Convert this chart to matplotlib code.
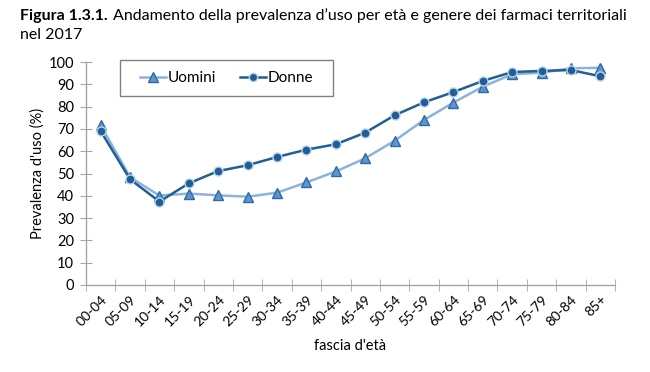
import matplotlib
matplotlib.use("Agg")
import matplotlib.pyplot as plt
from matplotlib.lines import Line2D
from matplotlib.patches import Rectangle

categories = ["00-04", "05-09", "10-14", "15-19", "20-24", "25-29", "30-34", "35-39",
              "40-44", "45-49", "50-54", "55-59", "60-64", "65-69", "70-74", "75-79",
              "80-84", "85+"]
uomini = [71.7, 48.3, 40.1, 41.0, 40.2, 39.6, 41.4, 46.0, 50.9, 56.8, 64.7, 74.0,
          81.8, 88.9, 94.5, 95.2, 97.2, 97.4]
donne = [69.0, 47.4, 37.4, 45.6, 51.1, 53.7, 57.4, 60.7, 63.1, 68.3, 76.1, 81.9,
         86.5, 91.5, 95.5, 96.0, 96.4, 93.6]
yticks = list(range(0, 101, 10))

plt.rcParams['font.family'] = ['Lato', 'DejaVu Sans']

fig = plt.figure(figsize=(6.5, 3.72), dpi=100)
ax = fig.add_axes([86/650, 1-285/372, (615-86)/650, (285-62)/372])

light = "#8DB3DC"
dark = "#1F5E97"
x = list(range(len(categories)))
ax.plot(x, uomini, color=light, lw=1.8, marker="^", ms=7, mfc="#5E95CC",
        mec="#2F6AA6", mew=1.0, zorder=3)
ax.plot(x, donne, color=dark, lw=1.8, marker="o", ms=6.5, mfc=dark,
        mec="#BCD3EA", mew=1.0, zorder=4)

ax.set_xlim(-0.5, len(categories) - 0.5)
ax.set_ylim(0, 100)
ax.set_yticks(yticks)
ax.set_yticklabels([str(v) for v in yticks], fontsize=10.5)
ax.set_xticks(x)
ax.set_xticklabels(categories, rotation=45, ha="right", rotation_mode="anchor", fontsize=10)
ax.tick_params(axis="x", length=0, pad=6)
ax.set_xticks([i - 0.5 for i in range(len(categories) + 1)], minor=True)
ax.tick_params(axis="x", which="minor", length=8, direction="inout", color="#A6A6A6")
ax.tick_params(axis="y", length=9, direction="inout", color="#A6A6A6", pad=4)

for s in ["top", "right"]:
    ax.spines[s].set_visible(False)
for s in ["left", "bottom"]:
    ax.spines[s].set_color("#A6A6A6")
    ax.spines[s].set_linewidth(1.0)

ax.set_ylabel("Prevalenza d'uso (%)", fontsize=10.5, labelpad=3)
ax.set_xlabel("fascia d'età", fontsize=10.5, labelpad=8)

# legend box
bx, by, bw, bh = (120-86)/529, (285-96)/223, (333-120)/529, 36/223
ax.add_patch(Rectangle((bx, by), bw, bh, transform=ax.transAxes, fill=True,
                       facecolor="white", edgecolor="#808080", lw=1.0,
                       clip_on=False, zorder=5))
handles = [Line2D([], [], color=light, lw=1.8, marker="^", ms=7, mfc="#5E95CC", mec="#2F6AA6"),
           Line2D([], [], color=dark, lw=1.8, marker="o", ms=6, mfc=dark, mec="#BCD3EA")]
leg = ax.legend(handles, ["Uomini", "Donne"], loc="center",
                bbox_to_anchor=(bx, by, bw, bh),
                ncol=2, fontsize=11, frameon=False,
                handlelength=1.7, handletextpad=0.1,
                borderaxespad=0, borderpad=0, columnspacing=1.6)
leg.set_zorder(6)

fig.text(20/650, 1-20/372, "Figura 1.3.1.", fontsize=11.5, fontweight="bold", va="baseline")
fig.text(113/650, 1-20/372, "Andamento della prevalenza d\u2019uso per età e genere dei farmaci territoriali",
         fontsize=11.5, va="baseline")
fig.text(20/650, 1-39/372, "nel 2017", fontsize=11.5, va="baseline")

fig.savefig("out.png", dpi=100)
